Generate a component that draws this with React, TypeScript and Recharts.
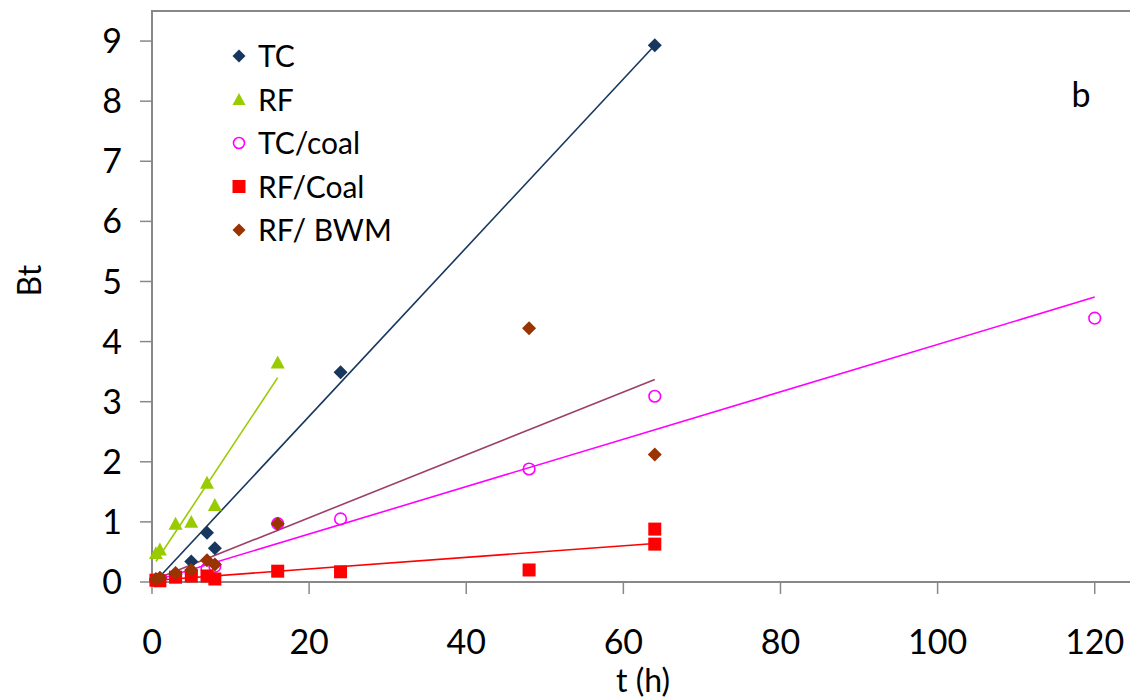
import { ScatterChart, Scatter, XAxis, YAxis, ReferenceArea } from 'recharts';

// sampling times (h) and Bt values
const tcTime = [0.5, 1, 3, 5, 7, 8, 24, 64];
const tcBt = [0.03, 0.06, 0.13, 0.34, 0.82, 0.56, 3.49, 8.93];

const rfTime = [0.5, 1, 3, 5, 7, 8, 16];
const rfBt = [0.48, 0.54, 0.97, 1.0, 1.65, 1.28, 3.65];

const tcCoalTime = [0.5, 1, 3, 5, 7, 8, 16, 24, 48, 64, 120];
const tcCoalBt = [0.03, 0.05, 0.1, 0.15, 0.22, 0.26, 0.97, 1.05, 1.88, 3.09, 4.39];

const rfCoalTime = [0.5, 1, 3, 5, 7, 8, 16, 24, 48, 64, 64];
const rfCoalBt = [0.03, 0.02, 0.08, 0.1, 0.1, 0.05, 0.18, 0.17, 0.2, 0.88, 0.63];

const rfBwmTime = [0.5, 1, 3, 5, 7, 8, 16, 48, 64];
const rfBwmBt = [0.05, 0.07, 0.15, 0.2, 0.36, 0.29, 0.97, 4.22, 2.12];

// linear trend lines (start / end as drawn)
const tcFitTime = [0.5, 64];
const tcFitBt = [0.02, 8.93];
const rfFitTime = [0.5, 16];
const rfFitBt = [0.34, 3.4];
const tcCoalFitTime = [0.5, 120];
const tcCoalFitBt = [0.03, 4.74];
const rfCoalFitTime = [0.5, 64];
const rfCoalFitBt = [0.03, 0.64];
const rfBwmFitTime = [0.5, 64];
const rfBwmFitBt = [0.05, 3.37];

const xTicks = [0, 20, 40, 60, 80, 100, 120];
const yTicks = [0, 1, 2, 3, 4, 5, 6, 7, 8, 9];

const seriesNames = ['TC', 'RF', 'TC/coal', 'RF/Coal', 'RF/ BWM'];

const NAVY = '#17375E';
const GREEN = '#99CC00';
const MAGENTA = '#FF00FF';
const RED = '#FF0000';
const BROWN = '#993300';
const MAUVE = '#9E3F68';
const AXIS = '#888888';
const FONT = 'Lato, "Open Sans", sans-serif';

const toPoints = (ts: number[], bs: number[]) => ts.map((t, i) => ({ t, b: bs[i] }));

const diamond = (color: string, r = 7) => (p: any) => (
  <path d={`M${p.cx},${p.cy - r}L${p.cx + r},${p.cy}L${p.cx},${p.cy + r}L${p.cx - r},${p.cy}Z`} fill={color} />
);
const triangle = (color: string, r = 7) => (p: any) => (
  <path d={`M${p.cx},${p.cy - r}L${p.cx + r},${p.cy + r * 0.85}L${p.cx - r},${p.cy + r * 0.85}Z`} fill={color} />
);
const ring = (color: string, r = 5.8) => (p: any) => (
  <circle cx={p.cx} cy={p.cy} r={r} fill="none" stroke={color} strokeWidth={1.6} />
);
const square = (color: string, r = 6.5) => (p: any) => (
  <rect x={p.cx - r} y={p.cy - r} width={r * 2} height={r * 2} fill={color} />
);
const noDot = () => <g />;

const legendShapes = [diamond(NAVY, 6.5), triangle(GREEN, 6.5), ring(MAGENTA, 5.5), square(RED, 6.5), diamond(BROWN, 6.5)];

export default function App() {
  return (
    <div style={{ position: 'relative', width: 1130, height: 691, fontFamily: FONT }}>
      <ScatterChart width={1130} height={691} margin={{ top: 3, right: 4, bottom: 0, left: 0 }}>
        <XAxis
          type="number"
          dataKey="t"
          domain={[0, 125]}
          ticks={xTicks}
          axisLine={false}
          tickLine={{ stroke: AXIS, strokeWidth: 1.5 }}
          tickSize={12}
          tickMargin={36}
          height={117}
          tick={{ fontSize: 34, fill: '#000', fontFamily: FONT }}
          label={{ value: 't (h)', position: 'insideBottom', offset: 7, fontSize: 32, fill: '#000', fontFamily: FONT }}
        />
        <YAxis
          type="number"
          dataKey="b"
          domain={[0, 9.5]}
          ticks={yTicks}
          axisLine={false}
          tickLine={{ stroke: AXIS, strokeWidth: 1.5 }}
          tickSize={12}
          tickMargin={18}
          width={144}
          tick={{ fontSize: 34, fill: '#000', fontFamily: FONT }}
          label={{ value: 'Bt', angle: -90, position: 'insideLeft', offset: 22, fontSize: 32, fill: '#000', fontFamily: FONT }}
        />
        <ReferenceArea x1={0} x2={125} y1={0} y2={9.5} fill="none" stroke={AXIS} strokeWidth={2} />

        <Scatter data={toPoints(tcFitTime, tcFitBt)} line={{ stroke: NAVY, strokeWidth: 1.6 }} shape={noDot} isAnimationActive={false} />
        <Scatter data={toPoints(rfFitTime, rfFitBt)} line={{ stroke: GREEN, strokeWidth: 1.6 }} shape={noDot} isAnimationActive={false} />
        <Scatter data={toPoints(tcCoalFitTime, tcCoalFitBt)} line={{ stroke: MAGENTA, strokeWidth: 1.6 }} shape={noDot} isAnimationActive={false} />
        <Scatter data={toPoints(rfCoalFitTime, rfCoalFitBt)} line={{ stroke: RED, strokeWidth: 1.6 }} shape={noDot} isAnimationActive={false} />
        <Scatter data={toPoints(rfBwmFitTime, rfBwmFitBt)} line={{ stroke: MAUVE, strokeWidth: 1.6 }} shape={noDot} isAnimationActive={false} />

        <Scatter name={seriesNames[0]} data={toPoints(tcTime, tcBt)} shape={diamond(NAVY)} isAnimationActive={false} />
        <Scatter name={seriesNames[1]} data={toPoints(rfTime, rfBt)} shape={triangle(GREEN)} isAnimationActive={false} />
        <Scatter name={seriesNames[2]} data={toPoints(tcCoalTime, tcCoalBt)} shape={ring(MAGENTA)} isAnimationActive={false} />
        <Scatter name={seriesNames[3]} data={toPoints(rfCoalTime, rfCoalBt)} shape={square(RED)} isAnimationActive={false} />
        <Scatter name={seriesNames[4]} data={toPoints(rfBwmTime, rfBwmBt)} shape={diamond(BROWN)} isAnimationActive={false} />
      </ScatterChart>

      <svg width={1130} height={691} style={{ position: 'absolute', left: 0, top: 0, pointerEvents: 'none' }}>
        {seriesNames.map((name, i) => {
          const cy = 48 + i * 43.5;
          return (
            <g key={name}>
              {legendShapes[i]({ cx: 231, cy })}
              <text x={250} y={cy + 11} fontSize={30} fontFamily={FONT} fill="#000">
                {name}
              </text>
            </g>
          );
        })}
        <text x={1073} y={99} fontSize={34} fontFamily={FONT} fill="#000" textAnchor="middle">
          b
        </text>
      </svg>
    </div>
  );
}
